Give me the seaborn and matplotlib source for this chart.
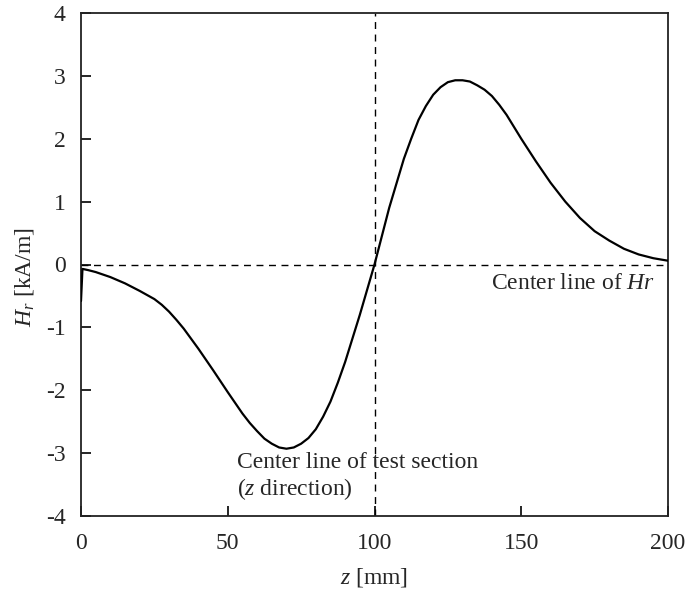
import matplotlib
matplotlib.use("Agg")
import matplotlib.pyplot as plt
import seaborn as sns
import pandas as pd

# Data
z_mm = [0, 0.5, 2.5, 5, 10, 15, 20, 25, 27.5, 30, 32.5, 35, 40, 45, 50, 55, 57.5, 60,
        62.5, 65, 67.5, 70, 72.5, 75, 77.5, 80, 82.5, 85, 87.5, 90, 95, 100, 105, 110,
        112.5, 115, 117.5, 120, 122.5, 125, 127.5, 130, 132.5, 135, 137.5, 140, 142.5,
        145, 150, 155, 160, 165, 170, 175, 180, 185, 190, 195, 200]
hr_kam = [-0.58, -0.07, -0.09, -0.12, -0.20, -0.30, -0.42, -0.55, -0.64, -0.75, -0.88,
          -1.02, -1.34, -1.68, -2.03, -2.37, -2.52, -2.65, -2.77, -2.85, -2.91, -2.93,
          -2.91, -2.85, -2.76, -2.62, -2.42, -2.18, -1.88, -1.55, -0.80, 0.0, 0.90, 1.68,
          2.00, 2.30, 2.52, 2.70, 2.82, 2.90, 2.93, 2.93, 2.91, 2.85, 2.78, 2.68, 2.54,
          2.38, 2.00, 1.64, 1.30, 1.00, 0.74, 0.53, 0.38, 0.25, 0.16, 0.10, 0.06]
x_ticks = [0, 50, 100, 150, 200]
y_ticks = [-4, -3, -2, -1, 0, 1, 2, 3, 4]

sns.set_style("white")
plt.rcParams["font.family"] = ["Liberation Serif", "DejaVu Serif"]
plt.rcParams["mathtext.fontset"] = "custom"
plt.rcParams["mathtext.rm"] = "Liberation Serif"
plt.rcParams["mathtext.it"] = "Liberation Serif:italic"
plt.rcParams["axes.unicode_minus"] = False

df = pd.DataFrame({"z": z_mm, "Hr": hr_kam})

fig = plt.figure(figsize=(6.91, 5.95), dpi=100)
ax = fig.add_axes([81 / 691, 1 - 516 / 595, (668 - 81) / 691, (516 - 13) / 595])

ax.axhline(0, color="black", lw=1.0, ls=(0, (5, 4)), zorder=1)
ax.axvline(100, color="black", lw=1.0, ls=(0, (5, 4)), zorder=1)

sns.lineplot(data=df, x="z", y="Hr", ax=ax, color="black", lw=1.6, sort=False, zorder=3)

ax.set_xlim(0, 200)
ax.set_ylim(-4, 4)
ax.set_xticks(x_ticks)
ax.set_yticks(y_ticks)
ax.set_xticklabels([str(t) for t in x_ticks])
ax.set_yticklabels([str(t) for t in y_ticks])
ax.tick_params(direction="in", length=7, width=1.2, labelsize=17, color="black",
               top=False, right=False, bottom=True, left=True)
ax.tick_params(axis="x", pad=12)
ax.tick_params(axis="y", pad=11)
for s in ax.spines.values():
    s.set_color("#222222")
    s.set_linewidth(1.3)
    s.set_visible(True)

ax.set_xlabel("$z$ [mm]", fontsize=17)
ax.set_ylabel("$H_r$ [kA/m]", fontsize=17)
ax.xaxis.set_label_coords(0.5, -0.100)
ax.yaxis.set_label_coords(-0.077, 0.475)

ax.text(53.2, -2.98, "Center line of test section\n($z$ direction)", fontsize=17,
        ha="left", va="top", linespacing=1.15)
ax.text(195.5, -0.3, "Center line of $Hr$", fontsize=17, ha="right", va="center")

fig.savefig("out.png", dpi=100, facecolor="white")
